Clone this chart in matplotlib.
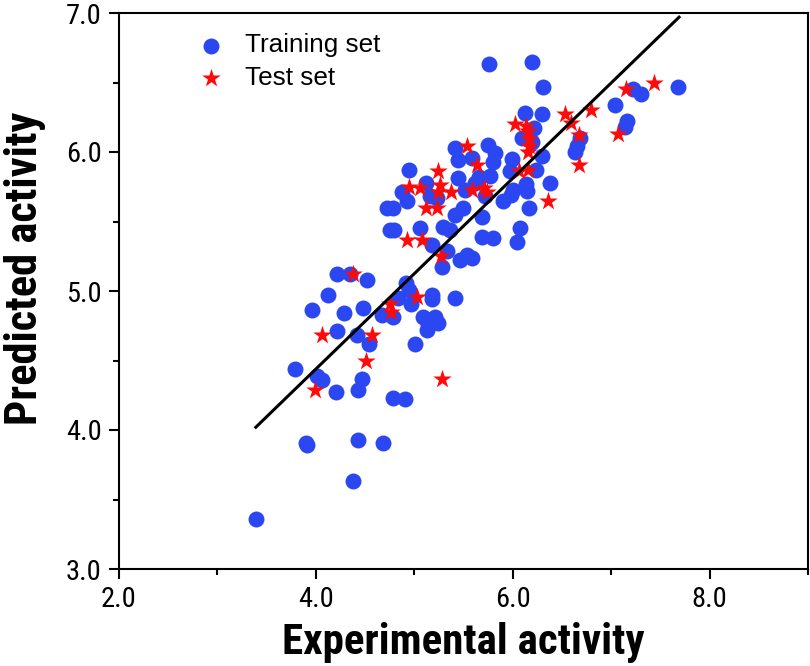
import matplotlib
matplotlib.use("Agg")
import matplotlib.pyplot as plt
from matplotlib import font_manager as fm
from matplotlib.ticker import MultipleLocator, FormatStrFormatter

# Training set (experimental, predicted)
train_x = [5.76, 6.20, 6.31, 6.12, 6.30, 7.04, 7.68, 7.22, 7.30, 7.16, 7.14, 6.22, 6.09, 6.20,
           6.68, 6.65, 6.63, 5.41, 5.75, 5.44, 5.59, 5.82, 5.80, 5.99, 6.30, 4.95, 5.44, 5.66,
           5.77, 5.97, 6.24, 6.38, 6.14, 6.15, 4.88, 6.00, 5.98, 5.90, 5.72, 6.17, 5.69, 6.07,
           6.04, 5.80, 5.69, 4.72, 4.78, 4.93, 4.75, 4.79, 5.06, 5.29, 5.36, 5.18, 5.33, 5.41,
           5.49, 5.54, 5.59, 5.46, 5.28, 4.21, 4.35, 4.52, 4.12, 3.96, 4.29, 4.48, 4.21, 4.42,
           4.54, 4.92, 4.95, 4.83, 4.97, 4.67, 4.78, 5.18, 5.18, 5.41, 5.09, 5.16, 5.21, 5.24,
           5.14, 5.01, 3.79, 4.01, 4.06, 4.47, 4.43, 4.20, 4.78, 4.91, 3.90, 3.91, 4.43, 4.68,
           4.38, 3.39, 5.13, 5.16, 5.12, 5.52, 5.62, 5.23]
train_y = [6.63, 6.65, 6.47, 6.28, 6.27, 6.34, 6.47, 6.45, 6.42, 6.22, 6.18, 6.17, 6.10, 6.07,
           6.10, 6.04, 6.00, 6.03, 6.05, 5.94, 5.96, 5.99, 5.93, 5.95, 5.97, 5.87, 5.81, 5.82,
           5.83, 5.86, 5.87, 5.78, 5.77, 5.72, 5.71, 5.73, 5.69, 5.65, 5.68, 5.60, 5.53, 5.45,
           5.35, 5.38, 5.39, 5.60, 5.60, 5.65, 5.44, 5.44, 5.45, 5.46, 5.44, 5.33, 5.29, 5.55,
           5.60, 5.26, 5.24, 5.22, 5.17, 5.12, 5.12, 5.08, 4.97, 4.86, 4.84, 4.88, 4.71, 4.68,
           4.62, 5.06, 5.01, 4.95, 4.91, 4.83, 4.81, 4.97, 4.94, 4.95, 4.81, 4.79, 4.81, 4.77,
           4.76, 4.62, 4.44, 4.39, 4.36, 4.37, 4.29, 4.27, 4.23, 4.22, 3.91, 3.89, 3.93, 3.91,
           3.63, 3.36, 4.72, 5.68, 5.78, 5.73, 5.78, 5.67]

# Test set (experimental, predicted)
test_x = [7.44, 7.15, 6.80, 6.53, 6.59, 6.02, 6.14, 6.16, 6.17, 6.17, 6.16, 6.67, 7.07, 6.67,
          5.54, 5.64, 5.24, 6.06, 6.16, 5.26, 4.95, 5.06, 5.37, 5.59, 5.71, 6.36, 5.24, 5.12,
          5.23, 4.93, 5.08, 5.27, 4.38, 5.03, 4.75, 4.76, 4.06, 4.57, 4.51, 5.28, 3.99, 5.74]
test_y = [6.50, 6.45, 6.30, 6.27, 6.21, 6.20, 6.19, 6.15, 6.09, 6.04, 6.00, 6.12, 6.13, 5.91,
          6.04, 5.91, 5.86, 5.86, 5.87, 5.76, 5.75, 5.74, 5.71, 5.73, 5.74, 5.65, 5.71, 5.60,
          5.60, 5.37, 5.37, 5.25, 5.12, 4.96, 4.91, 4.85, 4.68, 4.68, 4.50, 4.37, 4.29, 5.71]

# Fitted line end points
line_x = [3.39, 7.69]
line_y = [4.02, 6.97]

x_ticks = [2.0, 4.0, 6.0, 8.0]
y_ticks = [3.0, 4.0, 5.0, 6.0, 7.0]

# pick a condensed face if one is installed
names = {f.name for f in fm.fontManager.ttflist}
cond_stretch = {(f.name, f.stretch) for f in fm.fontManager.ttflist}
narrow_family = None
narrow_stretch = 'normal'
for cand in ['Liberation Sans Narrow', 'Arial Narrow', 'Roboto Condensed', 'Open Sans Condensed']:
    if cand in names:
        narrow_family = cand
        break
if narrow_family is None:
    for (n, st) in cond_stretch:
        if n in ('Open Sans', 'Roboto', 'DejaVu Sans') and str(st) in ('condensed', 'semi-condensed', '75', '87', 'semi_condensed'):
            narrow_family = n
            narrow_stretch = st
            break
if narrow_family is None:
    narrow_family = 'Liberation Sans'
narrow = [narrow_family, 'Liberation Sans', 'DejaVu Sans']

fig = plt.figure(figsize=(8.10, 6.66), dpi=100)
ax = fig.add_axes([119/810, 1-569/666, 689/810, 556/666])

blue = '#2b47f2'
red = '#ff0a0a'
ax.scatter(train_x, train_y, s=132, c=blue, marker='o', linewidths=0, label='Training set', zorder=3)
ax.scatter(test_x, test_y, s=195, c=red, marker='*', linewidths=0, label='Test set', zorder=4)
ax.plot(line_x, line_y, color='black', lw=2.2, zorder=5)

ax.set_xlim(2.0, 9.0)
ax.set_ylim(3.0, 7.0)
ax.set_xticks(x_ticks)
ax.set_yticks(y_ticks)
ax.xaxis.set_minor_locator(MultipleLocator(1.0))
ax.yaxis.set_minor_locator(MultipleLocator(0.5))
ax.xaxis.set_major_formatter(FormatStrFormatter('%.1f'))
ax.yaxis.set_major_formatter(FormatStrFormatter('%.1f'))
ax.tick_params(which='major', direction='out', length=7.5, width=1.5, pad=5)
ax.tick_params(which='minor', direction='out', length=4.5, width=1.5)
ax.tick_params(top=False, right=False, which='both')
for lab in ax.get_xticklabels() + ax.get_yticklabels():
    lab.set_family(narrow)
    lab.set_stretch(narrow_stretch)
    lab.set_fontsize(20.5)
for sp in ax.spines.values():
    sp.set_linewidth(1.5)

ax.set_xlabel('Experimental activity', fontsize=31, fontweight='bold', family=narrow,
              fontstretch=narrow_stretch)
ax.set_ylabel('Predicted activity', fontsize=32, fontweight='bold', family=narrow,
              fontstretch=narrow_stretch)
ax.xaxis.set_label_coords(0.5, -0.096)
ax.yaxis.set_label_coords(-0.106, 0.54)

leg = ax.legend(loc='upper left', bbox_to_anchor=(0.10, 0.982), frameon=False,
                prop={'family': ['Liberation Sans', 'DejaVu Sans'], 'size': 18.8},
                handlelength=1.0, handletextpad=0.8, labelspacing=0.32,
                scatterpoints=1, borderaxespad=0)

fig.savefig('out.png', dpi=100)
